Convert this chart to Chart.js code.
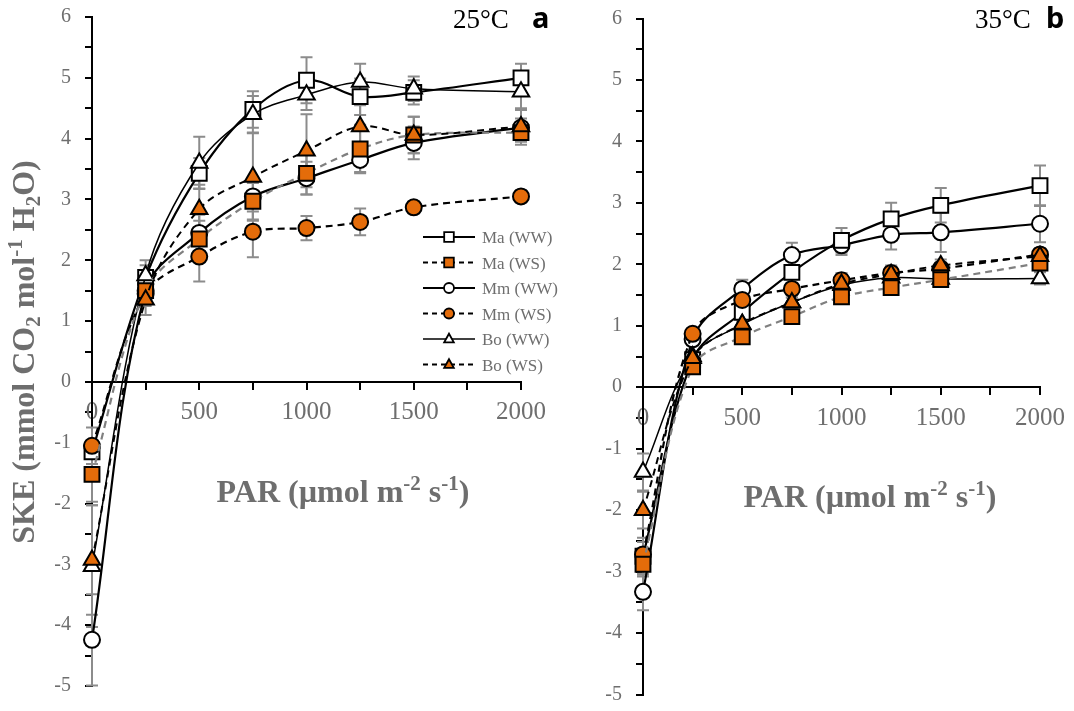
<!DOCTYPE html>
<html>
<head>
<meta charset="utf-8">
<script src="https://cdn.jsdelivr.net/npm/chart.js@4.4.0/dist/chart.umd.min.js"></script>
<style>
body{margin:0;background:#fff;overflow:hidden;}
#wrap{position:relative;width:1074px;height:711px;overflow:hidden;}
.panel{position:absolute;top:-10px;height:741px;}
#pa{left:0;width:560px;}
#pb{left:560px;width:514px;}
</style>
</head>
<body>
<div id="wrap">
  <div class="panel" id="pa"><canvas id="chartA"></canvas></div>
  <div class="panel" id="pb"><canvas id="chartB"></canvas></div>
</div>
<script>
"use strict";

// PAR levels (x)
const par = [0, 250, 500, 750, 1000, 1250, 1500, 2000];
const xTickLabels = [0, 500, 1000, 1500, 2000];
const yTickLabels = [-5, -4, -3, -2, -1, 0, 1, 2, 3, 4, 5, 6];
const seriesNames = ["Ma (WW)", "Ma (WS)", "Mm (WW)", "Mm (WS)", "Bo (WW)", "Bo (WS)"];

// panel a, 25°C
const maWW_a = [-1.15, 1.72, 3.43, 4.48, 4.96, 4.69, 4.76, 5.0];
const maWS_a = [-1.52, 1.5, 2.35, 2.97, 3.43, 3.83, 4.06, 4.1];
const mmWW_a = [-4.24, 1.5, 2.45, 3.05, 3.35, 3.65, 3.93, 4.18];
const mmWS_a = [-1.05, 1.45, 2.06, 2.47, 2.53, 2.63, 2.87, 3.05];
const boWW_a = [-3.03, 1.75, 3.6, 4.4, 4.72, 4.93, 4.82, 4.77];
const boWS_a = [-2.93, 1.35, 2.84, 3.37, 3.8, 4.2, 4.06, 4.2];

const maWW_a_err = [0.1, 0.2, 0.25, 0.3, 0.38, 0.3, 0.2, 0.23];
const maWS_a_err = [0.45, 0.2, 0.3, 0.3, 0.35, 0.4, 0.3, 0.15];
const mmWW_a_err = [0.75, 0.2, 0.3, 0.25, 0.27, 0.2, 0.27, 0.15];
const mmWS_a_err = [0.3, 0.2, 0.41, 0.42, 0.2, 0.22, 0.1, 0.1];
const boWW_a_err = [1.0, 0.25, 0.43, 0.3, 0.25, 0.3, 0.2, 0.3];
const boWS_a_err = [0.9, 0.25, 0.4, 0.72, 0.6, 0.35, 0.3, 0.3];

// panel b, 35°C
const maWW_b = [-2.75, 0.45, 1.22, 1.87, 2.39, 2.74, 2.96, 3.28];
const maWS_b = [-2.88, 0.33, 0.82, 1.15, 1.47, 1.62, 1.75, 2.02];
const mmWW_b = [-3.33, 0.78, 1.6, 2.15, 2.31, 2.48, 2.52, 2.66];
const mmWS_b = [-2.72, 0.87, 1.42, 1.6, 1.74, 1.86, 1.93, 2.16];
const boWW_b = [-1.38, 0.5, 1.02, 1.38, 1.66, 1.78, 1.76, 1.77];
const boWS_b = [-2.0, 0.47, 1.03, 1.38, 1.68, 1.84, 1.98, 2.13];

const maWW_b_err = [0.3, 0.1, 0.15, 0.2, 0.2, 0.26, 0.28, 0.33];
const maWS_b_err = [0.2, 0.05, 0.08, 0.1, 0.1, 0.1, 0.1, 0.1];
const mmWW_b_err = [0.3, 0.1, 0.15, 0.2, 0.16, 0.24, 0.32, 0.3];
const mmWS_b_err = [0.2, 0.05, 0.1, 0.1, 0.12, 0.12, 0.1, 0.1];
const boWW_b_err = [0.3, 0.05, 0.1, 0.08, 0.1, 0.08, 0.08, 0.1];
const boWS_b_err = [0.3, 0.05, 0.1, 0.08, 0.1, 0.12, 0.1, 0.12];

const orange = "#E46C0A";
const grey = "#6e6e6e";
const dash = [7, 5];
const shiftY = 10; // canvases sit 10px above the page top
const styles = [
  {shape: "rect", fill: "#fff", line: "#000", legendLine: "#000", dash: [], width: 2.2, r: 10.5},
  {shape: "rect", fill: orange, line: "#808080", legendLine: "#000", dash: dash, width: 2.2, r: 10.5},
  {shape: "circle", fill: "#fff", line: "#000", legendLine: "#000", dash: [], width: 2.2, r: 8},
  {shape: "circle", fill: orange, line: "#000", legendLine: "#000", dash: dash, width: 2.2, r: 8},
  {shape: "triangle", fill: "#fff", line: "#000", legendLine: "#000", dash: [], width: 1.5, r: 9.5},
  {shape: "triangle", fill: orange, line: "#000", legendLine: "#000", dash: dash, width: 2, r: 9.5}
];
// bottom -> top
const drawOrder = [2, 0, 4, 3, 1, 5];

const yTitle = [["SKE (mmol CO", 0], ["2", -1], [" mol", 0], ["-1", 1], [" H", 0], ["2", -1], ["O)", 0]];
const xTitle = [["PAR (\u00b5mol m", 0], ["-2", 1], [" s", 0], ["-1", 1], [")", 0]];

function drawRich(ctx, parts, x, y, size) {
  const base = "bold " + size + "px 'Liberation Serif'";
  const small = "bold " + Math.round(size * 0.65) + "px 'Liberation Serif'";
  let w = 0;
  parts.forEach(p => { ctx.font = p[1] ? small : base; w += ctx.measureText(p[0]).width; });
  let cx = x - w / 2;
  parts.forEach(p => {
    ctx.font = p[1] ? small : base;
    let dy = 0;
    if (p[1] === 1) dy = -size * 0.38;
    if (p[1] === -1) dy = size * 0.2;
    ctx.fillText(p[0], cx, y + dy);
    cx += ctx.measureText(p[0]).width;
  });
}

function marker(ctx, shape, x, y, r) {
  ctx.beginPath();
  if (shape === "rect") ctx.rect(x - r, y - r, 2 * r, 2 * r);
  else if (shape === "circle") ctx.arc(x, y, r, 0, Math.PI * 2);
  else {
    ctx.moveTo(x, y - r * 1.1);
    ctx.lineTo(x + r, y + r * 0.7);
    ctx.lineTo(x - r, y + r * 0.7);
    ctx.closePath();
  }
  ctx.fill();
  ctx.stroke();
}

const errorBars = {
  id: "errorBars",
  beforeDatasetsDraw(chart, args, opts) {
    const ctx = chart.ctx, xs = chart.scales.x, ys = chart.scales.y;
    ctx.save();
    ctx.strokeStyle = "#8c8c8c";
    ctx.lineWidth = 2;
    opts.errors.forEach((errs, i) => {
      const vals = opts.values[i];
      errs.forEach((e, k) => {
        const px = xs.getPixelForValue(par[k]);
        const top = ys.getPixelForValue(vals[k] + e);
        const bot = ys.getPixelForValue(vals[k] - e);
        ctx.beginPath();
        ctx.moveTo(px, top); ctx.lineTo(px, bot);
        ctx.moveTo(px - 6, top); ctx.lineTo(px + 6, top);
        ctx.moveTo(px - 6, bot); ctx.lineTo(px + 6, bot);
        ctx.stroke();
      });
    });
    ctx.restore();
  }
};

const labels = {
  id: "labels",
  afterDraw(chart, args, opts) {
    const ctx = chart.ctx;
    ctx.save();
    ctx.translate(0, shiftY);
    ctx.textAlign = "left";
    ctx.textBaseline = "alphabetic";
    ctx.fillStyle = grey;
    if (opts.yTitle) {
      ctx.save();
      ctx.translate(opts.yTitle.x, opts.yTitle.y);
      ctx.rotate(-Math.PI / 2);
      drawRich(ctx, yTitle, 0, 0, 32);
      ctx.restore();
    }
    drawRich(ctx, xTitle, opts.xTitle.x, opts.xTitle.y, 32);

    ctx.fillStyle = "#000";
    ctx.font = "27px 'Liberation Serif'";
    ctx.fillText(opts.temp.text, opts.temp.x, opts.temp.y);
    ctx.font = "bold 29px 'Noto Sans'";
    ctx.fillText(opts.letter.text, opts.letter.x, opts.letter.y);

    if (opts.legend) {
      const lg = opts.legend;
      seriesNames.forEach((name, i) => {
        const st = styles[i];
        const y = lg.y + i * lg.step;
        ctx.strokeStyle = st.legendLine;
        ctx.lineWidth = st.width;
        ctx.setLineDash(st.dash.length ? [5, 4] : []);
        ctx.beginPath();
        ctx.moveTo(lg.x, y); ctx.lineTo(lg.x + 52, y);
        ctx.stroke();
        ctx.setLineDash([]);
        ctx.strokeStyle = "#000";
        ctx.lineWidth = 1.8;
        ctx.fillStyle = st.fill;
        marker(ctx, st.shape, lg.x + 26, y, st.shape === "circle" ? 5 : 4.8);
        ctx.fillStyle = grey;
        ctx.font = "17px 'Liberation Serif'";
        ctx.fillText(name, lg.x + 59, y + 6);
      });
    }
    ctx.restore();
  }
};

function makeDatasets(values) {
  return values.map((vals, i) => {
    const st = styles[i];
    return {
      label: seriesNames[i],
      data: par.map((x, k) => ({x: x, y: vals[k]})),
      showLine: true,
      borderColor: st.line,
      borderWidth: st.width,
      borderDash: st.dash,
      tension: 0.35,
      pointStyle: st.shape,
      pointRadius: st.r,
      pointHoverRadius: st.r,
      pointBackgroundColor: st.fill,
      pointBorderColor: "#000",
      pointBorderWidth: 2,
      order: 10 - drawOrder.indexOf(i),
      clip: false
    };
  });
}

function buildChart(id, values, errors, setup) {
  return new Chart(document.getElementById(id), {
    type: "scatter",
    data: {datasets: makeDatasets(values)},
    plugins: [errorBars, labels],
    options: {
      responsive: true,
      maintainAspectRatio: false,
      animation: false,
      layout: {padding: setup.padding},
      plugins: {
        legend: {display: false},
        tooltip: {enabled: false},
        errorBars: {values: values, errors: errors},
        labels: setup.labels
      },
      scales: {
        x: {
          type: "linear",
          position: {y: 0},
          min: 0, max: 2000,
          afterFit(scale) { scale.height = 0; },
          border: {display: true, color: "#000", width: 2},
          grid: {drawOnChartArea: false, drawTicks: true, tickLength: 7, color: "#000", lineWidth: 2},
          ticks: {
            stepSize: 250, autoSkip: false, maxRotation: 0, padding: 9,
            color: grey, font: {family: "'Liberation Serif'", size: 25},
            callback: v => xTickLabels.includes(v) ? String(v) : ""
          }
        },
        y: {
          type: "linear",
          min: -5, max: 6,
          afterFit(scale) { scale.width = setup.yWidth; },
          border: {display: true, color: "#000", width: 2},
          grid: {drawOnChartArea: false, drawTicks: true, tickLength: 7, color: "#000", lineWidth: 2},
          ticks: {
            stepSize: 0.5, autoSkip: false, padding: 14,
            color: grey, font: {family: "'Liberation Serif'", size: 20},
            callback: v => yTickLabels.includes(v) ? String(v) : ""
          }
        }
      }
    }
  });
}

buildChart("chartA",
  [maWW_a, maWS_a, mmWW_a, mmWS_a, boWW_a, boWS_a],
  [maWW_a_err, maWS_a_err, mmWW_a_err, mmWS_a_err, boWW_a_err, boWS_a_err],
  {
    padding: {top: 27, right: 39, bottom: 45, left: 0},
    yWidth: 92,
    labels: {
      yTitle: {x: 34, y: 352},
      xTitle: {x: 343, y: 502},
      temp: {text: "25\u00b0C", x: 453, y: 28},
      letter: {text: "a", x: 532, y: 28},
      legend: {x: 423, y: 237, step: 25.5}
    }
  });

buildChart("chartB",
  [maWW_b, maWS_b, mmWW_b, mmWS_b, boWW_b, boWS_b],
  [maWW_b_err, maWS_b_err, mmWW_b_err, mmWS_b_err, boWW_b_err, boWS_b_err],
  {
    padding: {top: 28.5, right: 33, bottom: 36.5, left: 0},
    yWidth: 83,
    labels: {
      yTitle: null,
      xTitle: {x: 310, y: 507},
      temp: {text: "35\u00b0C", x: 415, y: 28},
      letter: {text: "b", x: 486, y: 28},
      legend: null
    }
  });
</script>
</body>
</html>
